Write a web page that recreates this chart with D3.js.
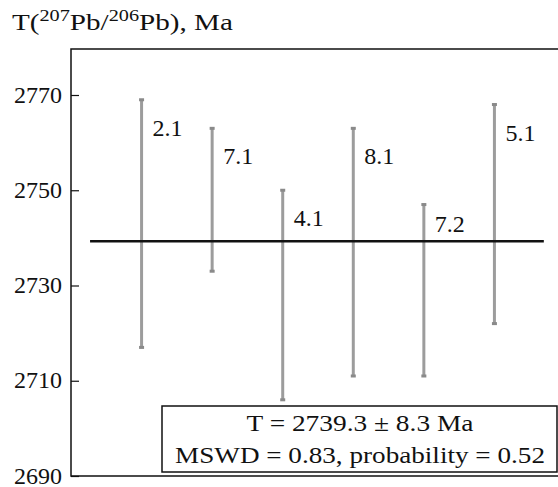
<!DOCTYPE html>
<html>
<head>
<meta charset="utf-8">
<script src="https://cdn.jsdelivr.net/npm/d3@7"></script>
<style>
  html, body { margin: 0; padding: 0; background: #fff; }
  svg { display: block; }
</style>
</head>
<body>
<svg id="chart" width="558" height="487"></svg>
<script>
// Zircon spot analyses: 207Pb/206Pb ages with their errors (Ma)
const spots = ["2.1", "7.1", "4.1", "8.1", "7.2", "5.1"];
const ages = [2743, 2748, 2728, 2737, 2729, 2745];
const errors = [26, 15, 22, 26, 18, 23];
const yTicks = [2690, 2710, 2730, 2750, 2770];
const meanAge = 2739.3;
const meanErr = 8.3;
const mswd = 0.83;
const probability = 0.52;

const SERIF = "Liberation Serif";
const svg = d3.select("#chart");
const plotLeft = 71, plotTop = 49, plotBottom = 476, plotRight = 558;

const y = d3.scaleLinear().domain([2690, 2770]).range([plotBottom, 95]);
const x = d3.scaleLinear().domain([0, 7]).range([plotLeft, 565]);

// stretch a text horizontally to a given width, anchored at (ax, ay)
function fitWidth(sel, width, ax, ay) {
  const w = sel.node().getComputedTextLength();
  const k = width / w;
  sel.attr("transform", `translate(${ax},${ay}) scale(${k},1) translate(${-ax},${-ay})`);
}

// y axis with inward ticks
const axis = d3.axisLeft(y).tickValues(yTicks).tickSizeInner(-8).tickSizeOuter(0).tickPadding(9)
  .tickFormat(d3.format("d"));
const gAxis = svg.append("g").attr("transform", `translate(${plotLeft},0)`).call(axis);
gAxis.select(".domain").remove();
gAxis.selectAll(".tick line").attr("stroke", "#111").attr("stroke-width", 1.2);
gAxis.selectAll(".tick text")
  .style("font-family", SERIF)
  .attr("font-size", 24).attr("fill", "#111").attr("dy", "0.3em");

// frame: left, top and bottom edges
svg.append("path")
  .attr("d", `M${plotRight},${plotTop}H${plotLeft}V${plotBottom}H${plotRight}`)
  .attr("fill", "none").attr("stroke", "#111").attr("stroke-width", 1.5);

// title
const title = svg.append("text").attr("x", 12).attr("y", 30).attr("font-size", 23)
  .style("font-family", SERIF).attr("fill", "#111");
title.append("tspan").text("T(");
title.append("tspan").attr("font-size", 16).attr("dy", -9).text("207");
title.append("tspan").attr("dy", 9).text("Pb/");
title.append("tspan").attr("font-size", 16).attr("dy", -9).text("206");
title.append("tspan").attr("dy", 9).text("Pb), Ma");
fitWidth(title, 221, 12, 30);

const data = spots.map((s, i) => ({ spot: s, age: ages[i], err: errors[i], i: i + 1 }));

// error bars
const bars = svg.append("g").selectAll("g").data(data).join("g");
bars.append("line")
  .attr("x1", d => x(d.i)).attr("x2", d => x(d.i))
  .attr("y1", d => y(d.age + d.err)).attr("y2", d => y(d.age - d.err))
  .attr("stroke", "#9c9c9c").attr("stroke-width", 3);
bars.selectAll("rect").data(d => [d.age + d.err, d.age - d.err].map(v => ({ v, i: d.i })))
  .join("rect")
  .attr("x", d => x(d.i) - 2.5).attr("y", d => y(d.v) - 1.5)
  .attr("width", 5).attr("height", 3).attr("fill", "#8a8a8a");

// weighted mean line
svg.append("line")
  .attr("x1", x(0.27)).attr("x2", x(6.7))
  .attr("y1", y(meanAge)).attr("y2", y(meanAge))
  .attr("stroke", "#111").attr("stroke-width", 2.5);

// spot labels, kept clear of the mean line
bars.append("text")
  .attr("x", d => x(d.i) + 11)
  .attr("y", d => Math.min(y(d.age + d.err) + 36, y(meanAge) - 9))
  .style("font-family", SERIF).attr("fill", "#111")
  .attr("font-size", 24).text(d => d.spot);

// result box
svg.append("rect").attr("x", 162).attr("y", 406).attr("width", 395).attr("height", 66)
  .attr("fill", "#fff").attr("stroke", "#111").attr("stroke-width", 1.5);
const line1 = svg.append("text").attr("x", 360).attr("y", 431).attr("text-anchor", "middle")
  .style("font-family", SERIF).attr("fill", "#111").attr("font-size", 23)
  .text(`T = ${meanAge} ± ${meanErr} Ma`);
fitWidth(line1, 227, 360, 431);
const line2 = svg.append("text").attr("x", 360).attr("y", 463).attr("text-anchor", "middle")
  .style("font-family", SERIF).attr("fill", "#111").attr("font-size", 23)
  .text(`MSWD = ${mswd}, probability = ${probability}`);
fitWidth(line2, 370, 360, 463);
</script>
</body>
</html>
